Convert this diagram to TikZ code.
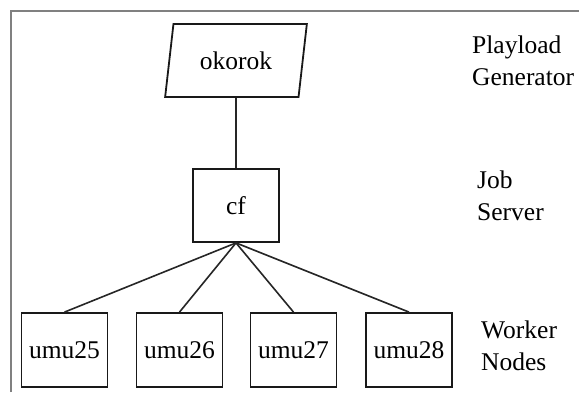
\documentclass[tikz,border=0pt]{standalone}
\usepackage{fontspec}
\setmainfont{Liberation Serif}
\usetikzlibrary{shapes.geometric}
\begin{document}
\begin{tikzpicture}[x=1pt,y=-1pt,
  every node/.style={font=\fontsize{25.5}{32}\selectfont},
  frameline/.style={draw=black!50,line width=1.4pt},
  hostbox/.style={draw=black!90,line width=1.8pt,minimum width=86pt,minimum height=74pt,inner sep=0pt},
  genbox/.style={trapezium,trapezium left angle=75,trapezium right angle=105,trapezium stretches=true,
    draw=black!90,line width=1.8pt,minimum width=142pt,minimum height=73pt,inner sep=0pt},
  link/.style={draw=black!85,line width=1.6pt},
  tier/.style={align=left,anchor=base west,inner sep=0pt}]
  \useasboundingbox (0,0) rectangle (579,392);
  % outer frame (top and left edges only)
  \draw[frameline] (11,392) -- (11,11) -- (579,11);

  % payload generator
  \node[genbox] (okorok) at (236,60.5) {okorok};
  % job server
  \node[hostbox,minimum height=73pt] (cf) at (236,205.5) {cf};
  % worker nodes
  \node[hostbox] (umu25) at (64.5,350) {umu25};
  \node[hostbox] (umu26) at (179.5,350) {umu26};
  \node[hostbox] (umu27) at (293.5,350) {umu27};
  \node[hostbox] (umu28) at (409,350) {umu28};

  % connections
  \draw[link] (okorok.south) -- (cf.north);
  \foreach \w in {umu25,umu26,umu27,umu28}
    \draw[link] (cf.south) -- (\w.north);

  % tier labels (anchored at the baseline of the second line)
  \node[tier] (lgen) at (472,85) {Playload\\Generator};
  \node[tier] (ljob) at (477,220) {Job\\Server};
  \node[tier] (lwork) at (481,370) {Worker\\Nodes};
\end{tikzpicture}
\end{document}
